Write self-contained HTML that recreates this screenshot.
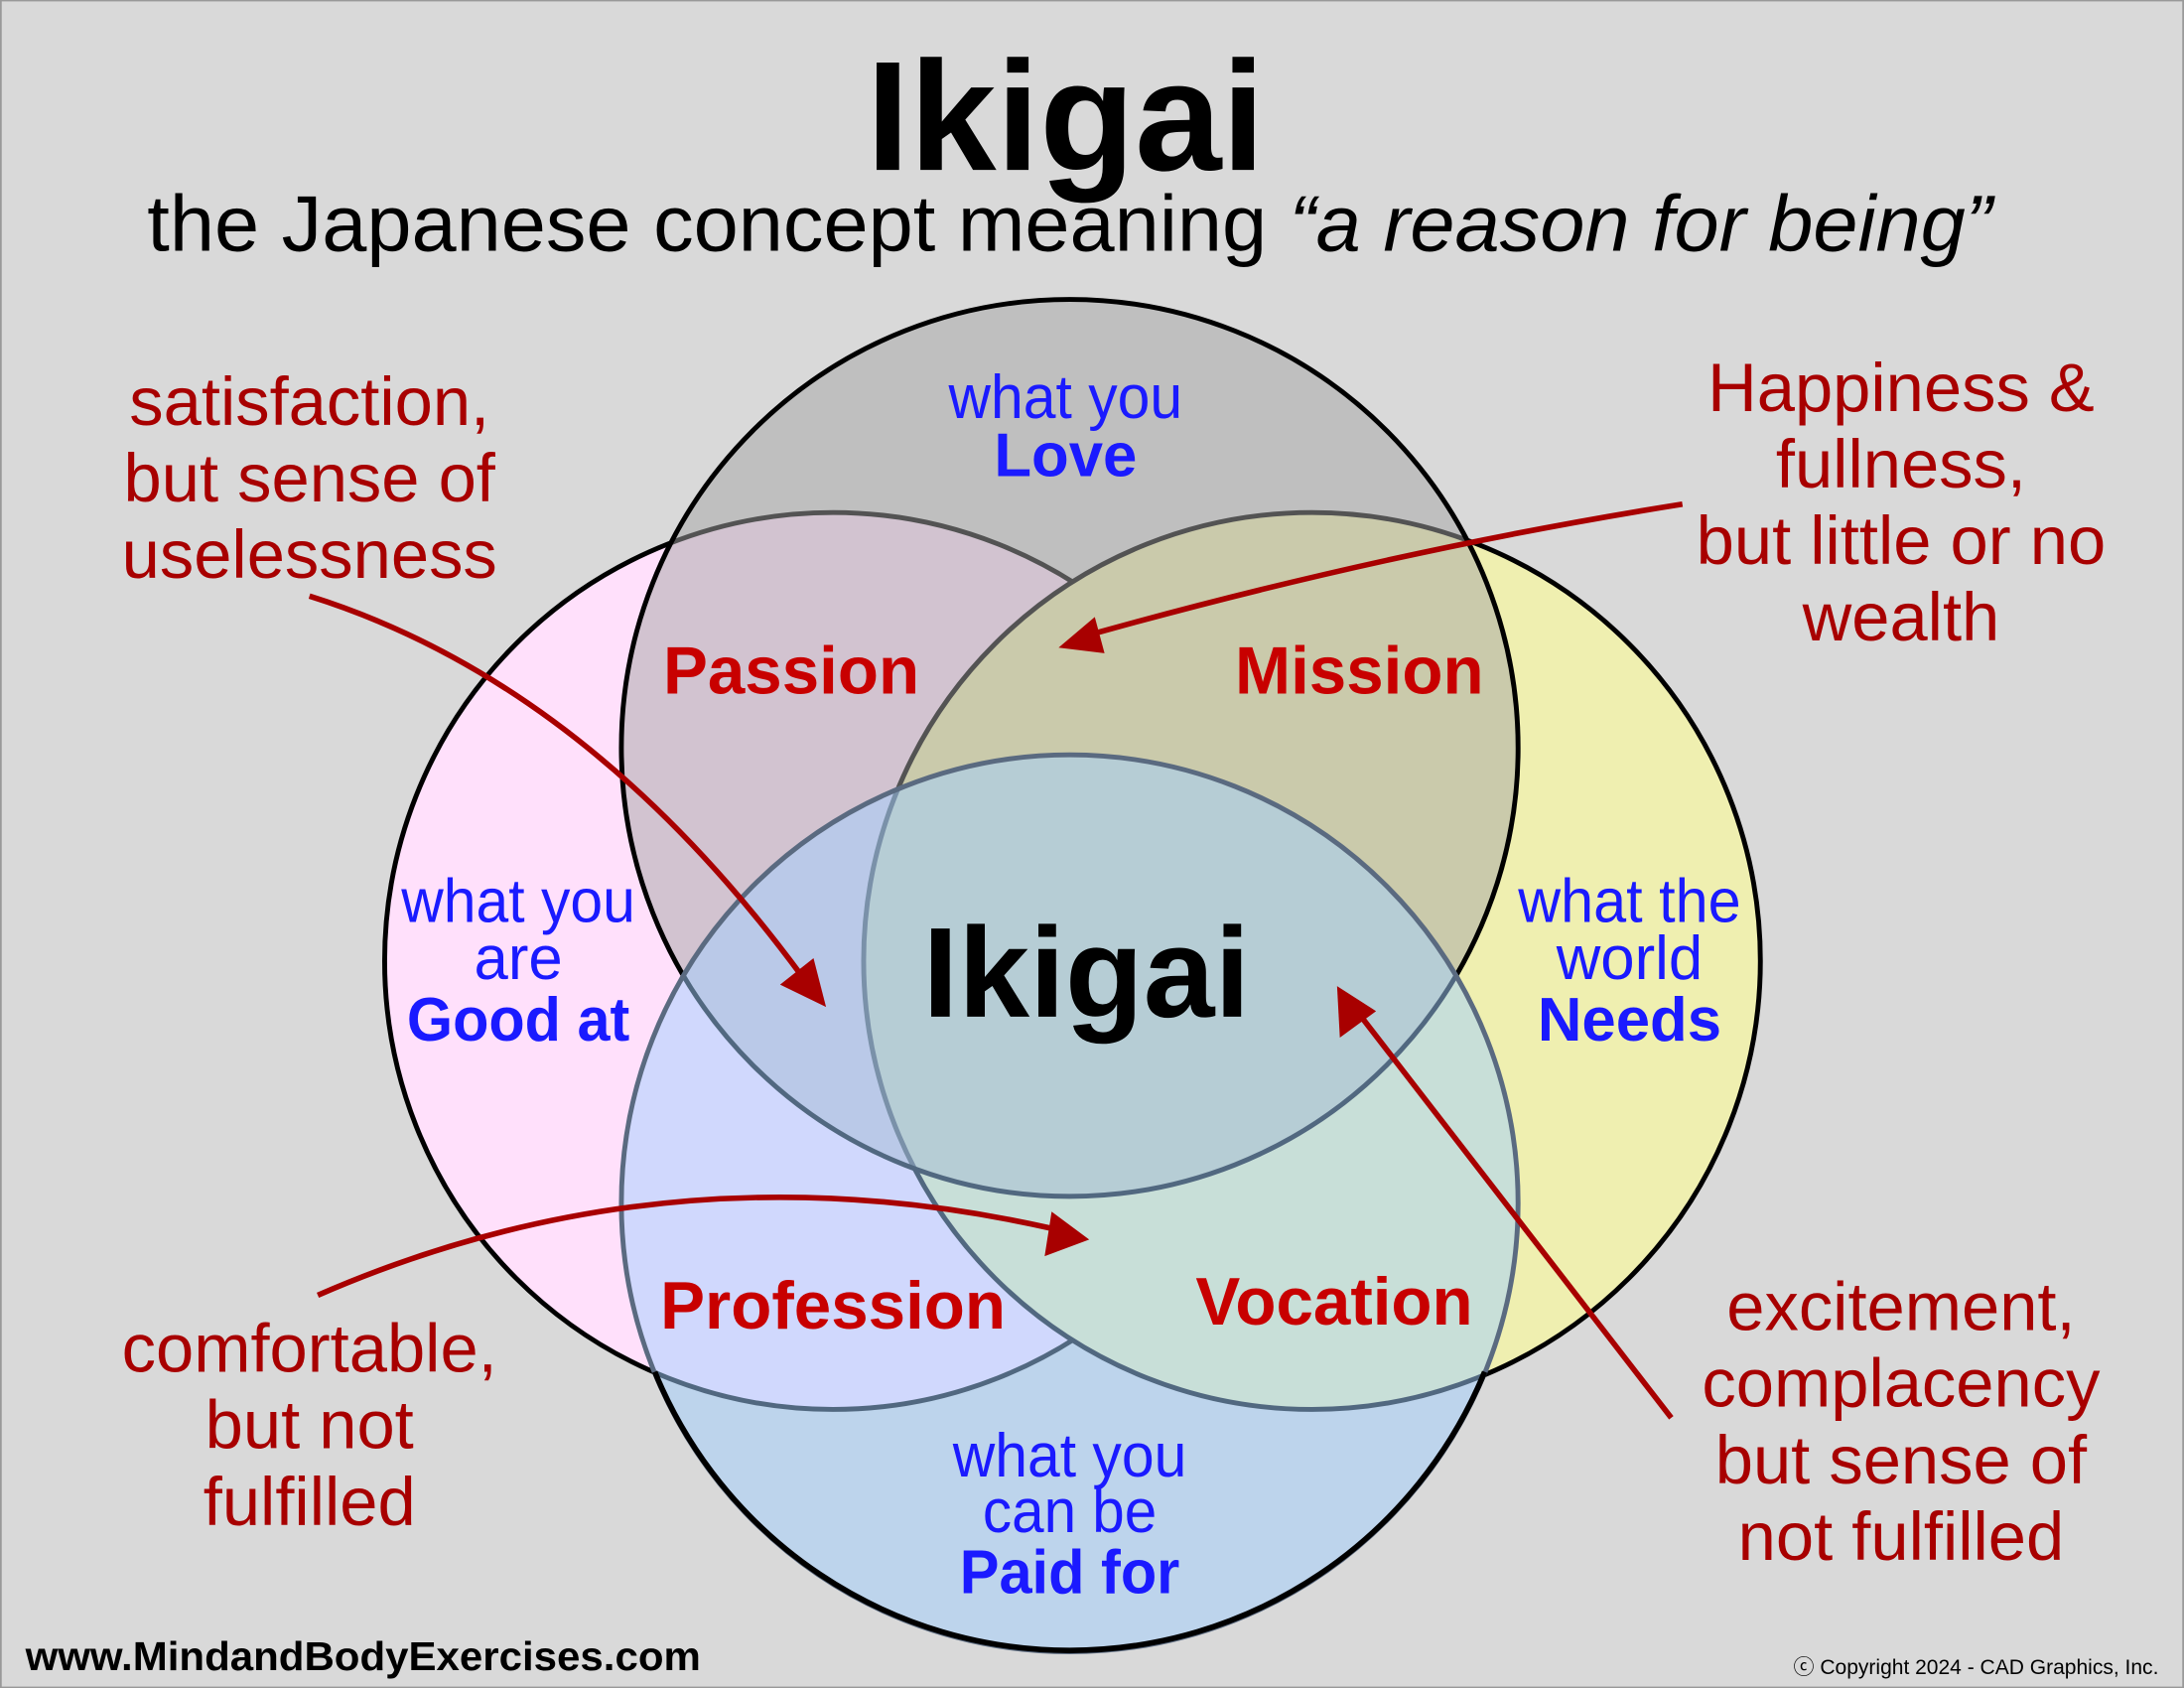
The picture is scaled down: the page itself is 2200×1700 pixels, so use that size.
<!DOCTYPE html>
<html><head><meta charset="utf-8"><style>
html,body{margin:0;padding:0;background:#d9d9d9;}
svg{display:block;}
text{font-family:"Liberation Sans",sans-serif;text-anchor:middle;}
.r{fill:#a80000;font-size:49px;}
.b{fill:#1a1aff;font-size:44px;}
.bb{fill:#1a1aff;font-size:44px;font-weight:bold;}
.rb{fill:#c80000;font-size:48px;font-weight:bold;}
</style></head><body>
<svg width="2200" height="1700" viewBox="0 0 1568 1212" xmlns="http://www.w3.org/2000/svg">
<rect x="0" y="0" width="1568" height="1212" fill="#d9d9d9" stroke="#999" stroke-width="2"/>
<text x="765" y="122" style="font-size:112px;font-weight:bold;fill:#000">Ikigai</text>
<text x="768" y="180" style="font-size:57px;fill:#000" textLength="1325" lengthAdjust="spacingAndGlyphs">the Japanese concept meaning <tspan font-style="italic">“a reason for being”</tspan></text>

<circle cx="598" cy="690" r="322" fill="#ffe0fb" stroke="#000" stroke-width="3.5"/>
<circle cx="942" cy="690" r="322" fill="#efefb0" stroke="#000" stroke-width="3.5"/>
<circle cx="768" cy="537" r="322" fill="#a6a6a6" fill-opacity="0.5" stroke="#000" stroke-width="3.5"/>
<circle cx="768" cy="864" r="322" fill="#a1cfff" fill-opacity="0.5" stroke="#5a6a80" stroke-width="3.5"/>
<path d="M 470 985 A 322 322 0 0 0 1066 985" fill="none" stroke="#000" stroke-width="4"/>

<g stroke="#a80000" stroke-width="4" fill="none">
<path d="M222,428 Q420,490 575,700"/>
<path d="M1208,362 Q1000,395 785,455"/>
<path d="M228,930 Q480,820 755,882"/>
<path d="M1200,1018 L975,727"/>
</g>
<g fill="#a80000">
<polygon points="593,723 560,707 584,688"/>
<polygon points="760,465 786,443 793,469"/>
<polygon points="782,890 750,902 755,870"/>
<polygon points="960,708 988,726 962,745"/>
</g>

<text class="r" x="222" y="305">satisfaction,</text>
<text class="r" x="222" y="360">but sense of</text>
<text class="r" x="222" y="415">uselessness</text>
<text class="r" x="1365" y="295">Happiness &amp;</text>
<text class="r" x="1365" y="350">fullness,</text>
<text class="r" x="1365" y="405">but little or no</text>
<text class="r" x="1365" y="460">wealth</text>
<text class="r" x="222" y="985">comfortable,</text>
<text class="r" x="222" y="1040">but not</text>
<text class="r" x="222" y="1095">fulfilled</text>
<text class="r" x="1365" y="955">excitement,</text>
<text class="r" x="1365" y="1010">complacency</text>
<text class="r" x="1365" y="1065">but sense of</text>
<text class="r" x="1365" y="1120">not fulfilled</text>

<text class="b" x="765" y="300" textLength="168" lengthAdjust="spacingAndGlyphs">what you</text>
<text class="bb" x="765" y="342">Love</text>
<text class="b" x="372" y="662" textLength="168" lengthAdjust="spacingAndGlyphs">what you</text>
<text class="b" x="372" y="703">are</text>
<text class="bb" x="372" y="747" textLength="160" lengthAdjust="spacingAndGlyphs">Good at</text>
<text class="b" x="1170" y="662" textLength="160" lengthAdjust="spacingAndGlyphs">what the</text>
<text class="b" x="1170" y="703">world</text>
<text class="bb" x="1170" y="747">Needs</text>
<text class="b" x="768" y="1060" textLength="168" lengthAdjust="spacingAndGlyphs">what you</text>
<text class="b" x="768" y="1100" textLength="125" lengthAdjust="spacingAndGlyphs">can be</text>
<text class="bb" x="768" y="1144" textLength="158" lengthAdjust="spacingAndGlyphs">Paid for</text>

<text class="rb" x="568" y="498">Passion</text>
<text class="rb" x="976" y="498">Mission</text>
<text class="rb" x="598" y="954">Profession</text>
<text class="rb" x="958" y="951">Vocation</text>
<text x="780" y="730" style="font-size:92px;font-weight:bold;fill:#000">Ikigai</text>

<text x="18" y="1199" style="text-anchor:start;font-size:29px;font-weight:bold;fill:#000" textLength="485" lengthAdjust="spacingAndGlyphs">www.MindandBodyExercises.com</text>
<text x="1550" y="1202" style="text-anchor:end;font-size:15px;fill:#000">ⓒ Copyright 2024 - CAD Graphics, Inc.</text>
</svg>
</body></html>
